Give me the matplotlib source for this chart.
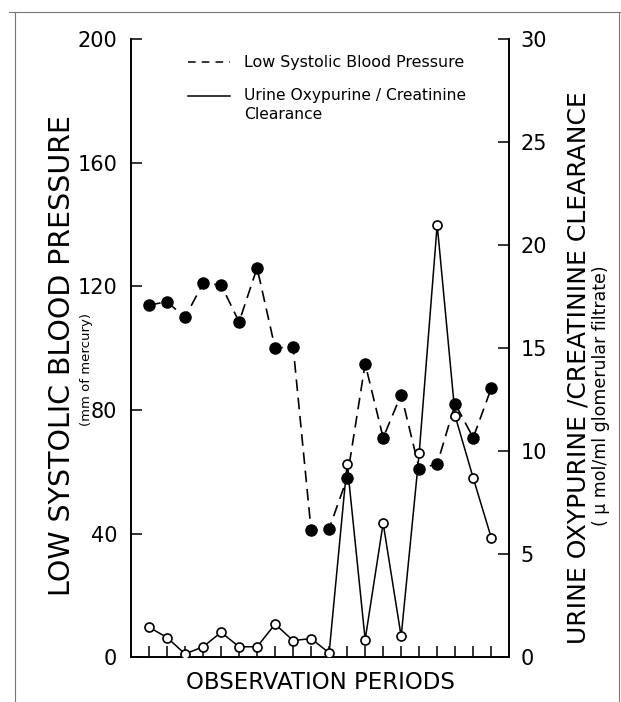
import matplotlib.pyplot as plt
import numpy as np

# Observation periods 1..20
periods = list(range(1, 21))

# Low systolic blood pressure (mm of mercury), left axis
bp = [114, 115, 110, 121, 120.5, 108.5, 126, 100, 100.5, 41,
      41.5, 58, 95, 71, 85, 61, 62.5, 82, 71, 87]

# Urine oxypurine / creatinine clearance (umol/ml glomerular filtrate), right axis
oxy = [1.45, 0.95, 0.15, 0.5, 1.2, 0.5, 0.5, 1.6, 0.8, 0.9,
       0.2, 9.4, 0.85, 6.5, 1.0, 9.9, 21.0, 11.7, 8.7, 5.8]

left_ticks = [0, 40, 80, 120, 160, 200]
right_ticks = [0, 5, 10, 15, 20, 25, 30]

plt.rcParams['font.family'] = ['DejaVu Sans']

fig = plt.figure(figsize=(6.21, 7.02), dpi=100)
ax = fig.add_axes([0.211, 0.064, 0.609, 0.880])
ax2 = ax.twinx()

# blood pressure: dashed line, filled circles
ax.plot(periods, bp, color='black', linestyle=(0, (7, 4)), linewidth=1.2,
        marker='o', markersize=8, markerfacecolor='black',
        markeredgecolor='black', zorder=3)

# oxypurine: solid line, open circles
ax2.plot(periods, oxy, color='black', linestyle='-', linewidth=1.1,
         marker='o', markersize=6.5, markerfacecolor='white',
         markeredgecolor='black', markeredgewidth=1.2, zorder=4)

ax.set_xlim(0, 21)
ax.set_ylim(0, 200)
ax2.set_ylim(0, 30)
ax.set_xticks(periods)
ax.set_xticklabels([])
ax.set_yticks(left_ticks)
ax.set_yticklabels([str(t) for t in left_ticks])
ax2.set_yticks(right_ticks)
ax2.set_yticklabels([str(t) for t in right_ticks])

for a in (ax, ax2):
    a.spines['top'].set_visible(False)
    for s in a.spines.values():
        s.set_linewidth(1.2)
ax.tick_params(axis='both', direction='in', length=8, width=1.1,
               labelsize=15, pad=8)
ax.tick_params(axis='y', pad=10)
ax2.tick_params(axis='y', direction='in', length=8, width=1.1,
                labelsize=15, pad=8)

# axis labels
ax.set_xlabel('OBSERVATION PERIODS', fontsize=16.5, labelpad=2)
fig.text(0.100, 0.494, 'LOW SYSTOLIC BLOOD PRESSURE', rotation=90,
         fontsize=20.5, ha='center', va='center')
fig.text(0.139, 0.474, '(mm of mercury)', rotation=90,
         fontsize=9.5, ha='center', va='center')
fig.text(0.931, 0.477, 'URINE OXYPURINE /CREATININE CLEARANCE', rotation=90,
         fontsize=18, ha='center', va='center')
fig.text(0.967, 0.437, '( \u03bc mol/ml glomerular filtrate)', rotation=90,
         fontsize=12.5, ha='center', va='center')

# legend drawn by hand
ax.plot([0.151, 0.262], [0.963, 0.963], transform=ax.transAxes,
        color='black', linestyle=(0, (5, 4)), linewidth=1.1)
ax.plot([0.151, 0.262], [0.909, 0.909], transform=ax.transAxes,
        color='black', linestyle='-', linewidth=1.1)
ax.text(0.300, 0.963, 'Low Systolic Blood Pressure', transform=ax.transAxes,
        fontsize=11.4, va='center', ha='left')
ax.text(0.300, 0.909, 'Urine Oxypurine / Creatinine', transform=ax.transAxes,
        fontsize=11.2, va='center', ha='left')
ax.text(0.300, 0.878, 'Clearance', transform=ax.transAxes,
        fontsize=11.2, va='center', ha='left')

# scan frame around the figure
fig.add_artist(plt.Line2D([0.024, 0.024], [0.0, 0.983], color='#777777', lw=0.8))
fig.add_artist(plt.Line2D([0.015, 0.998], [0.983, 0.983], color='#777777', lw=0.8))
fig.add_artist(plt.Line2D([0.997, 0.997], [0.0, 0.983], color='#777777', lw=0.8))

fig.savefig('out.png', dpi=100)
